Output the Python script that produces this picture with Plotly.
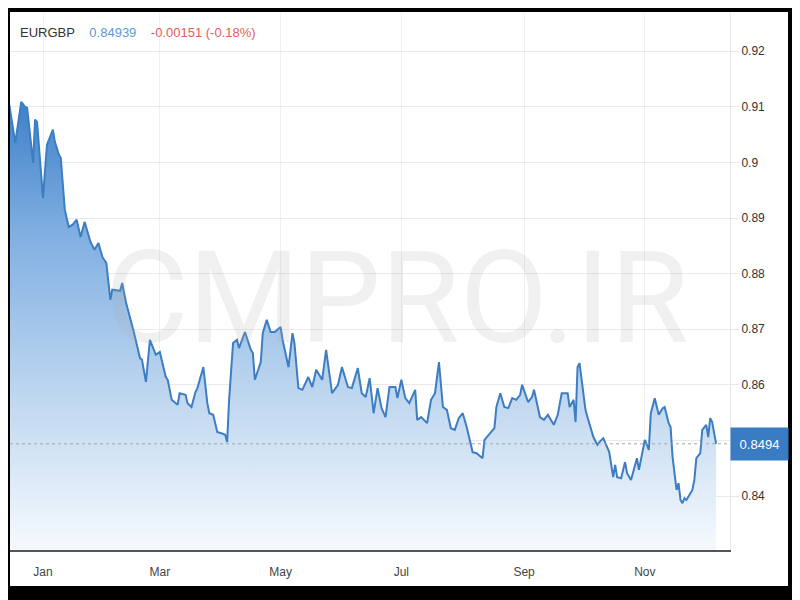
import pandas as pd
import plotly.graph_objects as go

# ---- data ----
base_date = pd.Timestamp("2021-01-01")
days_from_jan1 = [
    -17, -14, -11, -9, -8, -5, -4, -3, 0, 2,
    5, 6, 8, 9, 11, 13, 15, 17, 19, 21,
    24, 26, 28, 30, 32, 34, 35, 39, 40, 42,
    46, 49, 50, 52, 54, 57, 59, 62, 63, 65,
    68, 69, 72, 73, 75, 77, 78, 81, 83, 84,
    86, 88, 90, 92, 93, 94, 96, 98, 99, 102,
    105, 106, 107, 110, 111, 113, 115, 117, 120, 121,
    124, 126, 127, 129, 131, 134, 136, 138, 141, 143,
    146, 149, 151, 154, 156, 159, 161, 163, 165, 167,
    169, 171, 173, 175, 178, 179, 181, 183, 185, 188,
    189, 191, 194, 196, 198, 200, 202, 204, 206, 208,
    210, 212, 214, 217, 219, 222, 223, 226, 228, 229,
    231, 233, 235, 237, 239, 241, 242, 245, 247, 248,
    251, 253, 255, 258, 260, 262, 265, 266, 268, 269,
    270, 271, 274, 275, 278, 280, 281, 283, 285, 286,
    288, 289, 290, 292, 294, 295, 297, 300, 301, 304,
    306, 307, 309, 311, 313, 314, 316, 317, 318, 320,
    321, 322, 323, 324, 325, 328, 329, 330, 332, 333,
    335, 336, 337, 338, 339, 340,
]
eurgbp = [
    0.9103, 0.9035, 0.9109, 0.9100, 0.9098, 0.8999, 0.9077, 0.9073, 0.8936, 0.9032,
    0.9059, 0.9037, 0.9014, 0.9008, 0.8915, 0.8884, 0.8888, 0.8897, 0.8866, 0.8893,
    0.8857, 0.8843, 0.8855, 0.8830, 0.8819, 0.8753, 0.8771, 0.8769, 0.8783, 0.8747,
    0.8693, 0.8648, 0.8645, 0.8605, 0.8681, 0.8654, 0.8659, 0.8614, 0.8609, 0.8573,
    0.8564, 0.8585, 0.8582, 0.8567, 0.8560, 0.8587, 0.8594, 0.8632, 0.8567, 0.8549,
    0.8546, 0.8515, 0.8513, 0.8510, 0.8497, 0.8573, 0.8675, 0.8681, 0.8666, 0.8695,
    0.8663, 0.8657, 0.8609, 0.8641, 0.8693, 0.8717, 0.8695, 0.8695, 0.8704, 0.8681,
    0.8632, 0.8693, 0.8675, 0.8594, 0.8591, 0.8614, 0.8596, 0.8627, 0.8609, 0.8663,
    0.8585, 0.8600, 0.8632, 0.8596, 0.8594, 0.8630, 0.8585, 0.8578, 0.8612, 0.8549,
    0.8594, 0.8558, 0.8542, 0.8596, 0.8596, 0.8576, 0.8609, 0.8576, 0.8567, 0.8591,
    0.8537, 0.8542, 0.8531, 0.8573, 0.8585, 0.8641, 0.8560, 0.8555, 0.8522, 0.8519,
    0.8540, 0.8549, 0.8524, 0.8479, 0.8477, 0.8468, 0.8501, 0.8513, 0.8522, 0.8560,
    0.8585, 0.8560, 0.8558, 0.8576, 0.8573, 0.8582, 0.8600, 0.8569, 0.8578, 0.8591,
    0.8542, 0.8537, 0.8546, 0.8528, 0.8546, 0.8585, 0.8585, 0.8560, 0.8573, 0.8533,
    0.8632, 0.8639, 0.8555, 0.8542, 0.8506, 0.8492, 0.8497, 0.8504, 0.8486, 0.8479,
    0.8434, 0.8456, 0.8434, 0.8432, 0.8461, 0.8441, 0.8429, 0.8468, 0.8447, 0.8501,
    0.8483, 0.8549, 0.8576, 0.8546, 0.8558, 0.8560, 0.8531, 0.8524, 0.8470, 0.8411,
    0.8423, 0.8393, 0.8387, 0.8396, 0.8393, 0.8411, 0.8429, 0.8468, 0.8477, 0.8519,
    0.8528, 0.8506, 0.8540, 0.8533, 0.8513, 0.84939,
]
last_price = 0.84939
change_text = "-0.00151 (-0.18%)"
symbol = "EURGBP"
watermark = "CMPRO.IR"
month_ticks = ["2021-01-01", "2021-03-01", "2021-05-01", "2021-07-01", "2021-09-01", "2021-11-01"]
month_labels = ["Jan", "Mar", "May", "Jul", "Sep", "Nov"]
y_ticks = [0.84, 0.85, 0.86, 0.87, 0.88, 0.89, 0.90, 0.91, 0.92]
# the 0.85 label is hidden behind the last-price box in the reference
y_labels = ["0.84", "", "0.86", "0.87", "0.88", "0.89", "0.9", "0.91", "0.92"]

dates = [base_date + pd.Timedelta(days=d) for d in days_from_jan1]

FONT = "Arial, Liberation Sans, Helvetica, sans-serif"
LINE_BLUE = "#3d7dc2"

fig = go.Figure()
fig.add_trace(go.Scatter(
    x=dates, y=eurgbp, mode="lines",
    line=dict(color=LINE_BLUE, width=2),
    fill="tozeroy",
    fillgradient=dict(
        type="vertical",
        start=0.8315, stop=0.911,
        colorscale=[[0, "#f4f8fd"], [0.35, "#bcd5ef"], [0.7, "#80afe2"], [1, "#3f80c8"]],
    ),
    hoverinfo="skip", showlegend=False,
))

x_start = base_date - pd.Timedelta(hours=400)
x_end = base_date + pd.Timedelta(days=347)

fig.update_layout(
    width=800, height=600,
    margin=dict(l=2, r=78, t=5, b=58),
    paper_bgcolor="black",
    plot_bgcolor="white",
    font=dict(family=FONT, size=12, color="#333"),
    xaxis=dict(
        type="date", range=[x_start, x_end],
        tickvals=month_ticks, ticktext=month_labels,
        showgrid=True, gridcolor="#f0f0f0", gridwidth=1,
        showline=True, linecolor="#555", linewidth=2,
        ticks="", ticklabelstandoff=10,
        tickfont=dict(size=12, color="#444"),
        zeroline=False,
    ),
    yaxis=dict(
        side="right", range=[0.83029, 0.92687],
        tickvals=y_ticks, ticktext=y_labels,
        showgrid=True, gridcolor="#e9e9e9", gridwidth=1,
        showline=True, linecolor="#e6e6e6", linewidth=1,
        ticks="outside", ticklen=8, tickcolor="#e6e6e6",
        tickfont=dict(size=12, color="#333"),
        zeroline=False,
    ),
    shapes=[
        dict(type="rect", xref="paper", yref="paper",
             x0=0, x1=(788 - 10) / 720, y0=(550 - 586) / 537, y1=(550 - 12) / 537,
             fillcolor="white", line=dict(width=0), layer="below"),
        dict(type="line", xref="paper", yref="y", x0=0, x1=1,
             y0=last_price, y1=last_price,
             line=dict(color="#a0a8b0", width=1, dash="dot"), layer="above"),
    ],
    annotations=[
        dict(text=watermark, xref="paper", yref="paper", x=0.5375, y=0.469,
             xanchor="center", yanchor="middle", showarrow=False,
             font=dict(family="Roboto, Liberation Sans, sans-serif",
                       size=128, color="rgba(170,170,170,0.18)")),
        dict(text=(symbol + "&nbsp;&nbsp;&nbsp;&nbsp;"
                   + "<span style='color:#5b9bd5'>" + f"{last_price:.5f}" + "</span>"
                   + "&nbsp;&nbsp;&nbsp;&nbsp;"
                   + "<span style='color:#e0605a'>" + change_text + "</span>"),
             xref="paper", yref="paper", x=(18 - 10) / 720, y=(550 - 32) / 537,
             xanchor="left", yanchor="middle", showarrow=False,
             font=dict(family=FONT, size=13, color="#333")),
        dict(text=f"{last_price:.4f}", xref="paper", yref="y", x=1, y=last_price,
             xanchor="left", yanchor="middle", showarrow=False,
             width=57, height=32, borderpad=0, bgcolor="#3a7cc3",
             font=dict(family=FONT, size=13, color="white")),
    ],
)

fig.write_html("out.html")
